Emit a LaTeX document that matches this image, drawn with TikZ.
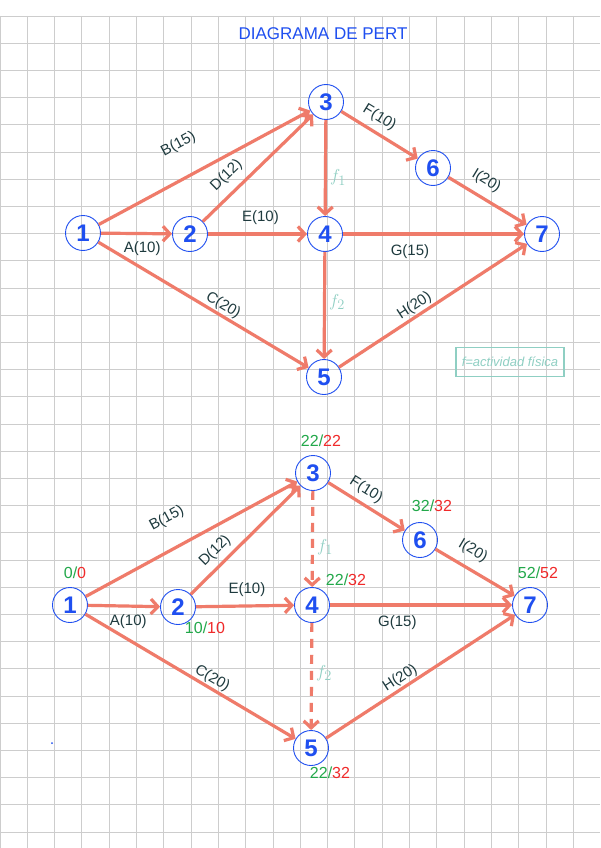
\documentclass[tikz,border=0pt]{standalone}
\usepackage{fontspec}
\setmainfont{Liberation Sans}
\usetikzlibrary{arrows.meta,positioning}
\definecolor{salmon}{HTML}{EF7B6A}
\definecolor{evblue}{HTML}{1F4FF0}
\definecolor{labink}{HTML}{1E3A3E}
\definecolor{fteal}{HTML}{8FCFC3}
\definecolor{tgreen}{HTML}{22A84A}
\definecolor{tred}{HTML}{F02A2A}
\definecolor{gridgray}{HTML}{CDCDCD}

\begin{document}
\begin{tikzpicture}[x=1pt,y=-1pt,
  ev/.style={circle,draw=evblue,line width=0.9pt,minimum size=35pt,inner sep=0pt,text=evblue,font=\fontsize{24}{24}\selectfont\bfseries},
  act/.style={draw=salmon,line width=3.2pt,-{Straight Barb[length=7pt,width=15pt]}},
  fict/.style={act,dash pattern=on 9pt off 7pt},
  lab/.style={text=labink,font=\fontsize{15}{15}\selectfont,inner sep=1pt},
  fl/.style={text=fteal,font=\fontsize{19}{19}\selectfont,inner sep=1pt},
  tm/.style={font=\fontsize{16}{16}\selectfont,inner sep=0pt}]
\useasboundingbox (0,0) rectangle (600,848);
\fill[white] (0,0) rectangle (600,848);
% squared paper
\foreach \i in {0,...,21} \draw[gridgray,line width=0.9pt] (27.3*\i,16) -- (27.3*\i,848);
\foreach \j in {0,...,30} \draw[gridgray,line width=0.9pt] (0,16+27.2*\j) -- (600,16+27.2*\j);

\node[text=evblue,font=\fontsize{17}{17}\selectfont] (title) at (323,34) {DIAGRAMA DE PERT};

% first network
\node[ev] (a1) at (83,233) {1};
\node[ev] (a2) at (190,234) {2};
\node[ev] (a3) at (326,102) {3};
\node[ev] (a4) at (325,234) {4};
\node[ev] (a5) at (324,377) {5};
\node[ev] (a6) at (433,168) {6};
\node[ev] (a7) at (542,234) {7};
\draw[act] (a1) -- node[lab,below=5pt,pos=0.58]{A(10)} (a2);
\draw[act] (a1) -- node[lab,sloped,above=23pt,pos=0.45]{B(15)} (a3);
\draw[act] (a1) -- node[lab,sloped,above=0pt,pos=0.57]{C(20)} (a5);
\draw[act] (a2) -- node[lab,sloped,above=7pt,pos=0.32]{D(12)} (a3);
\draw[act] (a2) -- node[lab,above=7pt,pos=0.53]{E(10)} (a4);
\draw[act] (a3) -- node[fl,right=2pt,pos=0.6]{$f_1$} (a4);
\draw[act] (a3) -- node[lab,sloped,above=5pt,pos=0.4]{F(10)} (a6);
\draw[act] (a4) -- node[lab,below=8pt,pos=0.37]{G(15)} (a7);
\draw[act] (a4) -- node[fl,right=2pt,pos=0.47]{$f_2$} (a5);
\draw[act] (a6) -- node[lab,sloped,above=7pt,pos=0.375]{I(20)} (a7);
\draw[act] (a5) -- node[lab,sloped,above=0pt,pos=0.43]{H(20)} (a7);
\node[draw=fteal,line width=1.3pt,text=fteal,minimum width=108pt,minimum height=29pt,inner sep=2pt,font=\itshape\fontsize{13}{13}\selectfont] (key) at (510,362) {f=actividad física};

% second network with times
\node[ev] (b1) at (70,605) {1};
\node[ev] (b2) at (178,607) {2};
\node[ev] (b3) at (313,473) {3};
\node[ev] (b4) at (312,605) {4};
\node[ev] (b5) at (311,748) {5};
\node[ev] (b6) at (420,540) {6};
\node[ev] (b7) at (530,605) {7};
\draw[act] (b1) -- node[lab,below=6pt,pos=0.56]{A(10)} (b2);
\draw[act] (b1) -- node[lab,sloped,above=20pt,pos=0.45]{B(15)} (b3);
\draw[act] (b1) -- node[lab,sloped,above=0pt,pos=0.58]{C(20)} (b5);
\draw[act] (b2) -- node[lab,sloped,above=4pt,pos=0.31]{D(12)} (b3);
\draw[act] (b2) -- node[lab,above=7pt,pos=0.52]{E(10)} (b4);
\draw[fict] (b3) -- node[fl,right=2pt,pos=0.58]{$f_1$} (b4);
\draw[act] (b3) -- node[lab,sloped,above=4pt,pos=0.4]{F(10)} (b6);
\draw[act] (b4) -- node[lab,below=8pt,pos=0.37]{G(15)} (b7);
\draw[fict] (b4) -- node[fl,right=2pt,pos=0.47]{$f_2$} (b5);
\draw[act] (b6) -- node[lab,sloped,above=8pt,pos=0.36]{I(20)} (b7);
\draw[act] (b5) -- node[lab,sloped,above=0pt,pos=0.42]{H(20)} (b7);

\node[tm] (t1) at (75,573) {\textcolor{tgreen}{0/}\textcolor{tred}{0}};
\node[tm] (t2) at (205,628) {\textcolor{tgreen}{10/}\textcolor{tred}{10}};
\node[tm] (t3) at (321,441) {\textcolor{tgreen}{22/}\textcolor{tred}{22}};
\node[tm] (t4) at (346,580) {\textcolor{tgreen}{22/}\textcolor{tred}{32}};
\node[tm] (t6) at (432,506) {\textcolor{tgreen}{32/}\textcolor{tred}{32}};
\node[tm] (t7) at (538,573) {\textcolor{tgreen}{52/}\textcolor{tred}{52}};
\node[tm] (t5) at (330,773) {\textcolor{tgreen}{22/}\textcolor{tred}{32}};
\fill[evblue] (52,743) circle (1pt);
\end{tikzpicture}
\end{document}
